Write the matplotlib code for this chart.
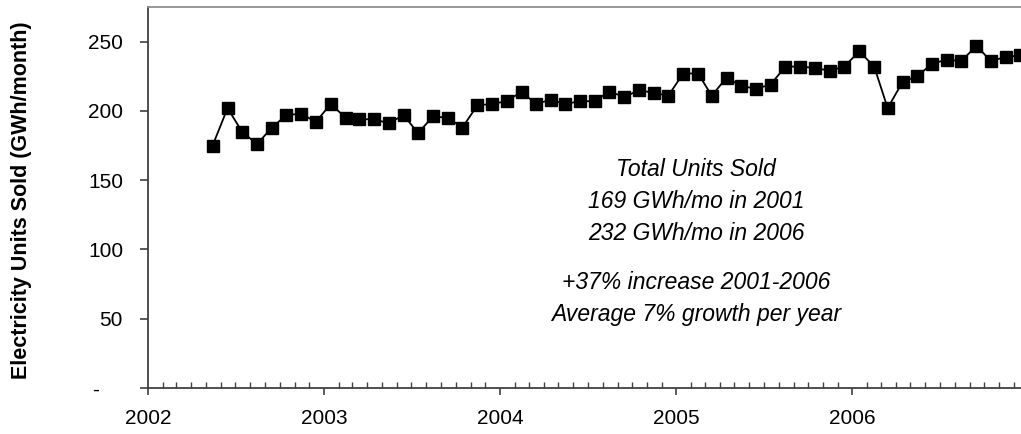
"""
Monthly electricity units sold, 2002-2006.
"""
import matplotlib
matplotlib.use('Agg')
import matplotlib.pyplot as plt
import matplotlib.dates as mdates
from matplotlib.ticker import FuncFormatter
import pandas as pd

plt.rcParams['font.family'] = ['Liberation Sans', 'DejaVu Sans']

# monthly sales, May 2002 - Dec 2006 (GWh/month), plotted mid-month
months = pd.date_range("2002-05-01", "2006-12-01", freq="MS") + pd.Timedelta(days=14)
units_sold = [
    175, 202, 185, 176, 188, 197, 198, 192,
    205, 195, 194, 194, 191, 197, 184, 196, 195, 188, 204, 205, 207, 214, 205, 208,
    205, 207, 207, 214, 210, 215, 213, 211, 227, 227, 211, 224,
    218, 216, 219, 232, 232, 231, 229, 232, 243, 232, 202, 221,
    225, 234, 237, 236, 247, 236, 239, 240,
]

x_start = pd.Timestamp("2002-01-01")
x_end = pd.Timestamp("2006-12-31")
y_max = 275
y_ticks = [0, 50, 100, 150, 200, 250]

note_lines = [
    "Total Units Sold",
    "169 GWh/mo in 2001",
    "232 GWh/mo in 2006",
    None,
    "+37% increase 2001-2006",
    "Average 7% growth per year",
]

W, H = 1021, 434
fig = plt.figure(figsize=(W / 100, H / 100), dpi=100)
fig.patch.set_facecolor('white')
# axes runs a little past the right edge, like the cropped original
ax = fig.add_axes([148 / W, (H - 388) / H, (1028 - 148) / W, (388 - 7) / H])

ax.plot(months, units_sold, color='black', lw=1.3, marker='s',
        markersize=8.5, markerfacecolor='black', markeredgecolor='black',
        clip_on=False, zorder=3)

ax.set_xlim(x_start, x_end)
ax.set_ylim(0, y_max)
ax.set_yticks(y_ticks)
ax.yaxis.set_major_formatter(FuncFormatter(lambda v, p: '-    ' if v == 0 else f"{v:.0f}"))

ax.xaxis.set_major_locator(mdates.YearLocator())
ax.xaxis.set_major_formatter(mdates.DateFormatter('%Y'))
ax.xaxis.set_minor_locator(mdates.MonthLocator())

ax.tick_params(axis='x', which='major', direction='out', length=5, width=1.2,
               color='#404040', labelsize=15, pad=10)
ax.tick_params(axis='x', which='minor', direction='in', length=4, width=1,
               color='#404040')
ax.tick_params(axis='y', which='major', direction='out', length=6, width=1.2,
               color='#404040', labelsize=15, pad=12)

for side in ('left', 'bottom'):
    ax.spines[side].set_color('#404040')
    ax.spines[side].set_linewidth(1.3)
ax.spines['top'].set_color('#909090')
ax.spines['top'].set_linewidth(1.3)
ax.spines['right'].set_visible(False)

fig.text(22 / W, (H - 200) / H, "Electricity Units Sold (GWh/month)",
         rotation=90, ha='center', va='center', fontsize=15.5, fontweight='bold')

# annotation, one line at a time (baselines), extra gap between the blocks
y = 0.556
for line in note_lines:
    if line is None:
        y -= 0.045
        continue
    ax.text(0.623, y, line, transform=ax.transAxes, ha='center', va='baseline',
            fontsize=16.5, style='italic')
    y -= 0.084

fig.savefig('out.png', dpi=100, facecolor='white')
plt.close(fig)
